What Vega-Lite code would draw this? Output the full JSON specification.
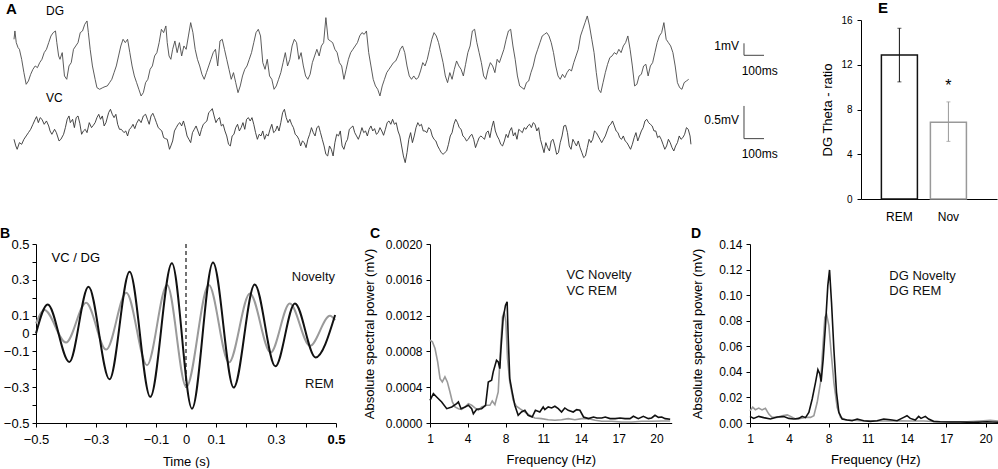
{
"$schema":"https://vega.github.io/schema/vega-lite/v6.json",
"padding":{"left":0,"top":1,"right":0,"bottom":0},
"background":"white",
"spacing":5,
"config":{
 "view":{"stroke":null},
 "font":"Liberation Sans",
 "axis":{"grid":false,"domainColor":"#000","tickColor":"#000","labelColor":"#000","titleColor":"#000","labelFont":"Liberation Sans","titleFont":"Liberation Sans","titleFontWeight":"normal","labelFontSize":12,"titleFontSize":13,"tickSize":4,"domainWidth":1,"tickWidth":1,"labelFlush":false,"labelOverlap":false},
 "title":{"font":"Liberation Sans","fontSize":14,"fontWeight":"bold","anchor":"start","frame":"group","color":"#000","offset":-3},
 "text":{"font":"Liberation Sans"}
},
"datasets":{
 "dgTrace":[{"s":38,"u":180},{"s":40,"u":205},{"s":43,"u":170},{"s":47,"u":155},{"s":50,"u":150},{"s":55,"u":120},{"s":60,"u":80},{"s":65,"u":45},{"s":70,"u":55},{"s":75,"u":75},{"s":80,"u":90},{"s":85,"u":100},{"s":90,"u":95},{"s":95,"u":110},{"s":100,"u":120},{"s":105,"u":140},{"s":110,"u":150},{"s":115,"u":170},{"s":120,"u":190},{"s":125,"u":200},{"s":130,"u":205},{"s":133,"u":170},{"s":137,"u":130},{"s":140,"u":120},{"s":145,"u":140},{"s":150,"u":70},{"s":155,"u":60},{"s":160,"u":100},{"s":165,"u":110},{"s":170,"u":150},{"s":175,"u":160},{"s":180,"u":170},{"s":185,"u":200},{"s":190,"u":205},{"s":195,"u":225},{"s":200,"u":235},{"s":203,"u":200},{"s":207,"u":150},{"s":212,"u":100},{"s":218,"u":60},{"s":222,"u":35},{"s":228,"u":30},{"s":235,"u":35},{"s":240,"u":38},{"s":245,"u":40},{"s":250,"u":50},{"s":255,"u":60},{"s":260,"u":80},{"s":265,"u":100},{"s":270,"u":130},{"s":275,"u":160},{"s":280,"u":180},{"s":285,"u":170},{"s":290,"u":180},{"s":295,"u":140},{"s":300,"u":100},{"s":305,"u":70},{"s":310,"u":50},{"s":315,"u":30},{"s":320,"u":10},{"s":325,"u":20},{"s":330,"u":50},{"s":335,"u":60},{"s":340,"u":90},{"s":345,"u":100},{"s":350,"u":130},{"s":355,"u":140},{"s":360,"u":170},{"s":365,"u":210},{"s":370,"u":200},{"s":375,"u":220},{"s":378,"u":170},{"s":382,"u":130},{"s":386,"u":120},{"s":390,"u":150},{"s":395,"u":175},{"s":400,"u":140},{"s":405,"u":170},{"s":410,"u":130},{"s":415,"u":160},{"s":420,"u":150},{"s":425,"u":190},{"s":430,"u":230},{"s":435,"u":200},{"s":440,"u":150},{"s":445,"u":120},{"s":450,"u":100},{"s":455,"u":75},{"s":460,"u":60},{"s":465,"u":80},{"s":470,"u":100},{"s":475,"u":120},{"s":480,"u":140},{"s":485,"u":150},{"s":490,"u":100},{"s":495,"u":175},{"s":500,"u":180},{"s":505,"u":150},{"s":510,"u":120},{"s":515,"u":90},{"s":520,"u":60},{"s":525,"u":80},{"s":530,"u":50},{"s":535,"u":20},{"s":540,"u":40},{"s":545,"u":70},{"s":550,"u":90},{"s":555,"u":100},{"s":560,"u":120},{"s":565,"u":140},{"s":570,"u":170},{"s":575,"u":200},{"s":580,"u":210},{"s":585,"u":190},{"s":590,"u":110},{"s":595,"u":90},{"s":600,"u":120},{"s":605,"u":70},{"s":610,"u":60},{"s":615,"u":30},{"s":620,"u":40},{"s":625,"u":60},{"s":630,"u":80},{"s":635,"u":110},{"s":640,"u":140},{"s":645,"u":100},{"s":650,"u":120},{"s":655,"u":160},{"s":660,"u":180},{"s":665,"u":170},{"s":670,"u":120},{"s":675,"u":140},{"s":680,"u":100},{"s":685,"u":70},{"s":690,"u":60},{"s":695,"u":75},{"s":700,"u":110},{"s":705,"u":130},{"s":710,"u":150},{"s":715,"u":130},{"s":720,"u":160},{"s":725,"u":170},{"s":730,"u":245},{"s":735,"u":180},{"s":740,"u":175},{"s":745,"u":170},{"s":750,"u":150},{"s":755,"u":140},{"s":760,"u":110},{"s":765,"u":100},{"s":770,"u":60},{"s":775,"u":90},{"s":780,"u":120},{"s":785,"u":140},{"s":790,"u":150},{"s":795,"u":160},{"s":800,"u":170},{"s":805,"u":190},{"s":810,"u":200},{"s":815,"u":195},{"s":820,"u":205},{"s":825,"u":140},{"s":830,"u":100},{"s":835,"u":60},{"s":840,"u":40},{"s":845,"u":30},{"s":850,"u":10},{"s":855,"u":40},{"s":860,"u":60},{"s":865,"u":80},{"s":870,"u":90},{"s":875,"u":100},{"s":880,"u":110},{"s":885,"u":115},{"s":890,"u":130},{"s":895,"u":150},{"s":900,"u":160},{"s":905,"u":140},{"s":910,"u":100},{"s":915,"u":70},{"s":920,"u":60},{"s":925,"u":70},{"s":930,"u":60},{"s":935,"u":65},{"s":940,"u":85},{"s":945,"u":110},{"s":950,"u":100},{"s":955,"u":120},{"s":960,"u":150},{"s":965,"u":180},{"s":970,"u":200},{"s":975,"u":190},{"s":980,"u":170},{"s":985,"u":140},{"s":990,"u":110},{"s":995,"u":70},{"s":1000,"u":50},{"s":1005,"u":80},{"s":1010,"u":60},{"s":1015,"u":90},{"s":1020,"u":115},{"s":1025,"u":100},{"s":1030,"u":90},{"s":1035,"u":70},{"s":1040,"u":105},{"s":1045,"u":140},{"s":1050,"u":160},{"s":1055,"u":205},{"s":1060,"u":210},{"s":1065,"u":170},{"s":1070,"u":140},{"s":1075,"u":110},{"s":1080,"u":70},{"s":1085,"u":60},{"s":1090,"u":90},{"s":1095,"u":110},{"s":1100,"u":100},{"s":1105,"u":80},{"s":1110,"u":120},{"s":1115,"u":110},{"s":1120,"u":130},{"s":1125,"u":150},{"s":1130,"u":180},{"s":1135,"u":205},{"s":1140,"u":210},{"s":1145,"u":160},{"s":1150,"u":120},{"s":1155,"u":70},{"s":1160,"u":40},{"s":1165,"u":35},{"s":1170,"u":30},{"s":1175,"u":50},{"s":1180,"u":55},{"s":1185,"u":80},{"s":1190,"u":100},{"s":1195,"u":130},{"s":1200,"u":150},{"s":1205,"u":170},{"s":1210,"u":190},{"s":1215,"u":195},{"s":1220,"u":200},{"s":1225,"u":190},{"s":1230,"u":170},{"s":1235,"u":140},{"s":1240,"u":100},{"s":1245,"u":70},{"s":1250,"u":60},{"s":1255,"u":75},{"s":1260,"u":65},{"s":1265,"u":80},{"s":1270,"u":90},{"s":1275,"u":85},{"s":1280,"u":110},{"s":1285,"u":130},{"s":1290,"u":150},{"s":1295,"u":190},{"s":1300,"u":210},{"s":1305,"u":230},{"s":1310,"u":250},{"s":1315,"u":220},{"s":1320,"u":180},{"s":1325,"u":140},{"s":1330,"u":80},{"s":1335,"u":30},{"s":1340,"u":20},{"s":1345,"u":50},{"s":1350,"u":80},{"s":1355,"u":105},{"s":1360,"u":125},{"s":1365,"u":130},{"s":1370,"u":140},{"s":1375,"u":135},{"s":1380,"u":150},{"s":1385,"u":140},{"s":1390,"u":160},{"s":1395,"u":170},{"s":1400,"u":190},{"s":1405,"u":150},{"s":1410,"u":100},{"s":1415,"u":40},{"s":1420,"u":45},{"s":1425,"u":70},{"s":1430,"u":75},{"s":1435,"u":100},{"s":1440,"u":105},{"s":1445,"u":70},{"s":1450,"u":100},{"s":1455,"u":110},{"s":1460,"u":140},{"s":1465,"u":170},{"s":1470,"u":190},{"s":1475,"u":200},{"s":1480,"u":230},{"s":1485,"u":180},{"s":1490,"u":170},{"s":1495,"u":160},{"s":1500,"u":140},{"s":1505,"u":100},{"s":1510,"u":50},{"s":1515,"u":35},{"s":1520,"u":30},{"s":1525,"u":50},{"s":1530,"u":55},{"s":1535,"u":60}],
 "vcTrace":[{"s":38,"u":30},{"s":42,"u":10},{"s":45,"u":0},{"s":50,"u":20},{"s":55,"u":15},{"s":60,"u":30},{"s":65,"u":40},{"s":70,"u":50},{"s":75,"u":60},{"s":80,"u":75},{"s":85,"u":90},{"s":88,"u":98},{"s":92,"u":80},{"s":96,"u":95},{"s":100,"u":90},{"s":105,"u":75},{"s":110,"u":85},{"s":115,"u":70},{"s":118,"u":55},{"s":122,"u":45},{"s":128,"u":60},{"s":132,"u":50},{"s":138,"u":25},{"s":142,"u":30},{"s":148,"u":45},{"s":152,"u":65},{"s":156,"u":90},{"s":160,"u":100},{"s":163,"u":80},{"s":168,"u":90},{"s":172,"u":65},{"s":176,"u":95},{"s":180,"u":100},{"s":184,"u":78},{"s":188,"u":45},{"s":192,"u":55},{"s":196,"u":60},{"s":200,"u":50},{"s":205,"u":80},{"s":210,"u":65},{"s":214,"u":72},{"s":218,"u":80},{"s":222,"u":95},{"s":226,"u":105},{"s":230,"u":90},{"s":234,"u":100},{"s":238,"u":70},{"s":242,"u":80},{"s":248,"u":110},{"s":252,"u":120},{"s":256,"u":105},{"s":260,"u":95},{"s":264,"u":105},{"s":268,"u":75},{"s":272,"u":60},{"s":276,"u":60},{"s":282,"u":50},{"s":286,"u":55},{"s":290,"u":40},{"s":294,"u":60},{"s":298,"u":65},{"s":302,"u":75},{"s":306,"u":62},{"s":310,"u":78},{"s":315,"u":90},{"s":320,"u":80},{"s":325,"u":100},{"s":330,"u":105},{"s":334,"u":90},{"s":338,"u":75},{"s":342,"u":100},{"s":346,"u":108},{"s":350,"u":95},{"s":354,"u":80},{"s":358,"u":65},{"s":362,"u":60},{"s":366,"u":55},{"s":370,"u":35},{"s":374,"u":32},{"s":378,"u":30},{"s":383,"u":0},{"s":386,"u":10},{"s":390,"u":25},{"s":394,"u":55},{"s":398,"u":65},{"s":402,"u":75},{"s":406,"u":80},{"s":410,"u":70},{"s":414,"u":85},{"s":418,"u":65},{"s":422,"u":40},{"s":426,"u":30},{"s":430,"u":20},{"s":434,"u":50},{"s":438,"u":60},{"s":442,"u":70},{"s":446,"u":55},{"s":450,"u":40},{"s":454,"u":60},{"s":458,"u":75},{"s":462,"u":80},{"s":466,"u":85},{"s":470,"u":110},{"s":474,"u":115},{"s":478,"u":122},{"s":482,"u":100},{"s":486,"u":80},{"s":490,"u":90},{"s":494,"u":95},{"s":498,"u":70},{"s":502,"u":75},{"s":506,"u":55},{"s":510,"u":40},{"s":514,"u":15},{"s":518,"u":10},{"s":522,"u":40},{"s":526,"u":45},{"s":530,"u":65},{"s":534,"u":75},{"s":538,"u":55},{"s":542,"u":65},{"s":546,"u":80},{"s":550,"u":60},{"s":554,"u":90},{"s":558,"u":95},{"s":562,"u":85},{"s":566,"u":95},{"s":570,"u":75},{"s":574,"u":50},{"s":578,"u":30},{"s":582,"u":45},{"s":586,"u":40},{"s":590,"u":55},{"s":594,"u":30},{"s":598,"u":45},{"s":602,"u":40},{"s":606,"u":60},{"s":610,"u":75},{"s":614,"u":50},{"s":618,"u":55},{"s":622,"u":70},{"s":626,"u":55},{"s":630,"u":80},{"s":634,"u":110},{"s":638,"u":120},{"s":642,"u":95},{"s":646,"u":80},{"s":650,"u":90},{"s":654,"u":75},{"s":658,"u":65},{"s":662,"u":45},{"s":666,"u":40},{"s":670,"u":30},{"s":674,"u":10},{"s":678,"u":25},{"s":682,"u":20},{"s":686,"u":5},{"s":690,"u":30},{"s":694,"u":45},{"s":698,"u":65},{"s":702,"u":50},{"s":706,"u":40},{"s":710,"u":65},{"s":714,"u":70},{"s":718,"u":50},{"s":722,"u":30},{"s":726,"u":10},{"s":730,"u":-15},{"s":734,"u":-20},{"s":738,"u":10},{"s":742,"u":0},{"s":746,"u":-20},{"s":750,"u":20},{"s":754,"u":45},{"s":758,"u":40},{"s":762,"u":55},{"s":766,"u":10},{"s":770,"u":0},{"s":774,"u":20},{"s":778,"u":30},{"s":782,"u":60},{"s":786,"u":65},{"s":790,"u":70},{"s":794,"u":50},{"s":798,"u":40},{"s":802,"u":30},{"s":806,"u":45},{"s":810,"u":65},{"s":814,"u":50},{"s":818,"u":55},{"s":822,"u":40},{"s":826,"u":60},{"s":830,"u":70},{"s":834,"u":55},{"s":838,"u":62},{"s":842,"u":45},{"s":846,"u":50},{"s":850,"u":65},{"s":854,"u":55},{"s":858,"u":42},{"s":862,"u":60},{"s":866,"u":80},{"s":870,"u":85},{"s":874,"u":75},{"s":878,"u":90},{"s":882,"u":75},{"s":886,"u":80},{"s":890,"u":55},{"s":894,"u":40},{"s":898,"u":10},{"s":902,"u":-20},{"s":906,"u":-40},{"s":910,"u":-10},{"s":914,"u":30},{"s":918,"u":50},{"s":922,"u":20},{"s":926,"u":40},{"s":930,"u":65},{"s":934,"u":80},{"s":938,"u":70},{"s":942,"u":75},{"s":946,"u":55},{"s":950,"u":55},{"s":954,"u":50},{"s":958,"u":65},{"s":962,"u":60},{"s":966,"u":40},{"s":970,"u":30},{"s":974,"u":25},{"s":978,"u":10},{"s":982,"u":0},{"s":986,"u":-10},{"s":990,"u":-15},{"s":994,"u":-10},{"s":998,"u":-5},{"s":1002,"u":15},{"s":1006,"u":40},{"s":1010,"u":50},{"s":1014,"u":75},{"s":1018,"u":90},{"s":1022,"u":80},{"s":1026,"u":65},{"s":1030,"u":60},{"s":1034,"u":40},{"s":1038,"u":35},{"s":1042,"u":25},{"s":1046,"u":30},{"s":1050,"u":40},{"s":1054,"u":45},{"s":1058,"u":30},{"s":1062,"u":5},{"s":1066,"u":20},{"s":1070,"u":35},{"s":1074,"u":40},{"s":1078,"u":35},{"s":1082,"u":30},{"s":1086,"u":50},{"s":1090,"u":55},{"s":1094,"u":35},{"s":1098,"u":65},{"s":1102,"u":85},{"s":1106,"u":55},{"s":1110,"u":40},{"s":1114,"u":30},{"s":1118,"u":15},{"s":1122,"u":10},{"s":1126,"u":25},{"s":1130,"u":45},{"s":1134,"u":35},{"s":1138,"u":55},{"s":1142,"u":65},{"s":1146,"u":40},{"s":1150,"u":50},{"s":1154,"u":30},{"s":1158,"u":60},{"s":1162,"u":55},{"s":1166,"u":50},{"s":1170,"u":65},{"s":1174,"u":60},{"s":1178,"u":70},{"s":1182,"u":75},{"s":1186,"u":65},{"s":1190,"u":80},{"s":1194,"u":75},{"s":1198,"u":55},{"s":1202,"u":65},{"s":1206,"u":30},{"s":1210,"u":10},{"s":1214,"u":-10},{"s":1218,"u":20},{"s":1222,"u":5},{"s":1226,"u":-5},{"s":1230,"u":25},{"s":1234,"u":30},{"s":1238,"u":10},{"s":1242,"u":-15},{"s":1246,"u":-10},{"s":1250,"u":20},{"s":1254,"u":40},{"s":1258,"u":70},{"s":1262,"u":72},{"s":1266,"u":50},{"s":1270,"u":10},{"s":1274,"u":0},{"s":1278,"u":30},{"s":1282,"u":20},{"s":1286,"u":10},{"s":1290,"u":25},{"s":1294,"u":5},{"s":1298,"u":-10},{"s":1302,"u":-25},{"s":1306,"u":-20},{"s":1310,"u":5},{"s":1314,"u":30},{"s":1318,"u":20},{"s":1322,"u":30},{"s":1326,"u":55},{"s":1330,"u":50},{"s":1334,"u":40},{"s":1338,"u":30},{"s":1342,"u":20},{"s":1346,"u":30},{"s":1350,"u":40},{"s":1354,"u":55},{"s":1358,"u":70},{"s":1362,"u":75},{"s":1366,"u":85},{"s":1370,"u":70},{"s":1374,"u":55},{"s":1378,"u":50},{"s":1382,"u":35},{"s":1386,"u":30},{"s":1390,"u":40},{"s":1394,"u":25},{"s":1398,"u":20},{"s":1402,"u":10},{"s":1406,"u":0},{"s":1410,"u":15},{"s":1414,"u":35},{"s":1418,"u":50},{"s":1422,"u":25},{"s":1426,"u":40},{"s":1430,"u":55},{"s":1434,"u":65},{"s":1438,"u":85},{"s":1442,"u":90},{"s":1446,"u":80},{"s":1450,"u":75},{"s":1454,"u":70},{"s":1458,"u":55},{"s":1462,"u":55},{"s":1466,"u":35},{"s":1470,"u":40},{"s":1474,"u":30},{"s":1478,"u":15},{"s":1482,"u":0},{"s":1486,"u":10},{"s":1490,"u":30},{"s":1494,"u":20},{"s":1498,"u":5},{"s":1502,"u":-5},{"s":1506,"u":10},{"s":1510,"u":20},{"s":1514,"u":40},{"s":1518,"u":30},{"s":1522,"u":35},{"s":1526,"u":45},{"s":1530,"u":65},{"s":1534,"u":60},{"s":1538,"u":40},{"s":1540,"u":15}],
 "dgBar":[{"x1":1657.7,"x2":1657.7,"y1":132,"y2":168},{"x1":1657.7,"x2":1702.1,"y1":132,"y2":132}],
 "vcBar":[{"x1":1657.7,"x2":1657.7,"y1":32,"y2":130},{"x1":1657.7,"x2":1702.1,"y1":32,"y2":32}],
 "dgRight":[{"s":1646.6,"u":159,"label":"1mV"}],
 "dgLeft":[{"s":109,"u":264,"label":"DG"},{"s":1652.6,"u":84,"label":"100ms"}],
 "vcRight":[{"s":1646.6,"u":87,"label":"0.5mV"}],
 "vcLeft":[{"s":109,"u":153,"label":"VC"},{"s":1652.6,"u":-15,"label":"100ms"}],
 "panelA":[{"s":20.3,"u":270,"label":"A"}],
 "xcorr":[
  {"lag":-0.5,"r":0.056,"state":"Novelty"},{"lag":-0.472,"r":0.131,"state":"Novelty"},{"lag":-0.4,"r":-0.05,"state":"Novelty"},{"lag":-0.333,"r":0.172,"state":"Novelty"},{"lag":-0.266,"r":-0.09,"state":"Novelty"},{"lag":-0.199,"r":0.228,"state":"Novelty"},{"lag":-0.13,"r":-0.177,"state":"Novelty"},{"lag":-0.063,"r":0.271,"state":"Novelty"},{"lag":0.001,"r":-0.299,"state":"Novelty"},{"lag":0.076,"r":0.271,"state":"Novelty"},{"lag":0.143,"r":-0.162,"state":"Novelty"},{"lag":0.213,"r":0.224,"state":"Novelty"},{"lag":0.282,"r":-0.106,"state":"Novelty"},{"lag":0.346,"r":0.168,"state":"Novelty"},{"lag":0.413,"r":-0.069,"state":"Novelty"},{"lag":0.48,"r":0.099,"state":"Novelty"},{"lag":0.497,"r":0.075,"state":"Novelty"},
  {"lag":-0.5,"r":0.0,"state":"REM"},{"lag":-0.461,"r":0.162,"state":"REM"},{"lag":-0.389,"r":-0.159,"state":"REM"},{"lag":-0.325,"r":0.261,"state":"REM"},{"lag":-0.255,"r":-0.256,"state":"REM"},{"lag":-0.188,"r":0.345,"state":"REM"},{"lag":-0.119,"r":-0.354,"state":"REM"},{"lag":-0.047,"r":0.392,"state":"REM"},{"lag":0.02,"r":-0.42,"state":"REM"},{"lag":0.09,"r":0.396,"state":"REM"},{"lag":0.159,"r":-0.302,"state":"REM"},{"lag":0.229,"r":0.274,"state":"REM"},{"lag":0.298,"r":-0.183,"state":"REM"},{"lag":0.363,"r":0.168,"state":"REM"},{"lag":0.432,"r":-0.134,"state":"REM"},{"lag":0.497,"r":0.103,"state":"REM"}],
 "zeroLag":[{"lag":0,"top":0.5,"bottom":-0.32}],
 "bLabels":[{"lag":-0.448,"r":0.42,"label":"VC / DG","state":"pair"}],
 "bRight":[{"lag":0.497,"r":0.317,"label":"Novelty","state":"Novelty"},{"lag":0.493,"r":-0.28,"label":"REM","state":"REM"}],
 "vcSpec":[
  {"hz":1.0,"p":0.000925,"state":"Novelty"},{"hz":1.19,"p":0.000907,"state":"Novelty"},{"hz":1.4,"p":0.000832,"state":"Novelty"},{"hz":1.61,"p":0.000683,"state":"Novelty"},{"hz":1.8,"p":0.000496,"state":"Novelty"},{"hz":1.98,"p":0.000459,"state":"Novelty"},{"hz":2.19,"p":0.000515,"state":"Novelty"},{"hz":2.38,"p":0.000459,"state":"Novelty"},{"hz":2.59,"p":0.000347,"state":"Novelty"},{"hz":2.78,"p":0.000235,"state":"Novelty"},{"hz":2.99,"p":0.000179,"state":"Novelty"},{"hz":3.26,"p":0.00016,"state":"Novelty"},{"hz":3.52,"p":0.000153,"state":"Novelty"},{"hz":3.79,"p":0.000179,"state":"Novelty"},{"hz":4.07,"p":0.000216,"state":"Novelty"},{"hz":4.42,"p":0.000198,"state":"Novelty"},{"hz":4.77,"p":0.000168,"state":"Novelty"},{"hz":5.12,"p":0.000142,"state":"Novelty"},{"hz":5.47,"p":0.000179,"state":"Novelty"},{"hz":6.0,"p":0.000198,"state":"Novelty"},{"hz":6.35,"p":0.000198,"state":"Novelty"},{"hz":6.6,"p":0.000246,"state":"Novelty"},{"hz":6.88,"p":0.000205,"state":"Novelty"},{"hz":7.23,"p":0.000347,"state":"Novelty"},{"hz":7.51,"p":0.000907,"state":"Novelty"},{"hz":7.68,"p":0.001186,"state":"Novelty"},{"hz":7.86,"p":0.001242,"state":"Novelty"},{"hz":8.03,"p":0.00113,"state":"Novelty"},{"hz":8.16,"p":0.00072,"state":"Novelty"},{"hz":8.34,"p":0.000459,"state":"Novelty"},{"hz":8.61,"p":0.000254,"state":"Novelty"},{"hz":8.87,"p":0.000187,"state":"Novelty"},{"hz":9.14,"p":0.00016,"state":"Novelty"},{"hz":9.54,"p":0.000123,"state":"Novelty"},{"hz":9.93,"p":0.000086,"state":"Novelty"},{"hz":10.33,"p":0.000056,"state":"Novelty"},{"hz":10.86,"p":0.000049,"state":"Novelty"},{"hz":11.4,"p":0.000037,"state":"Novelty"},{"hz":11.93,"p":0.00003,"state":"Novelty"},{"hz":12.46,"p":0.000037,"state":"Novelty"},{"hz":12.99,"p":0.000049,"state":"Novelty"},{"hz":13.52,"p":0.000037,"state":"Novelty"},{"hz":14.07,"p":0.000049,"state":"Novelty"},{"hz":14.6,"p":0.000049,"state":"Novelty"},{"hz":15.13,"p":0.00003,"state":"Novelty"},{"hz":15.66,"p":0.000019,"state":"Novelty"},{"hz":16.45,"p":0.000019,"state":"Novelty"},{"hz":17.24,"p":0.000011,"state":"Novelty"},{"hz":18.04,"p":0.000011,"state":"Novelty"},{"hz":18.83,"p":0.000019,"state":"Novelty"},{"hz":19.62,"p":0.000019,"state":"Novelty"},{"hz":20.42,"p":0.000022,"state":"Novelty"},{"hz":21.08,"p":0.000022,"state":"Novelty"},
  {"hz":1.0,"p":0.000254,"state":"REM"},{"hz":1.27,"p":0.000328,"state":"REM"},{"hz":1.53,"p":0.000291,"state":"REM"},{"hz":1.93,"p":0.000235,"state":"REM"},{"hz":2.33,"p":0.00016,"state":"REM"},{"hz":2.73,"p":0.000179,"state":"REM"},{"hz":3.12,"p":0.000216,"state":"REM"},{"hz":3.26,"p":0.000235,"state":"REM"},{"hz":3.47,"p":0.00016,"state":"REM"},{"hz":3.79,"p":0.000179,"state":"REM"},{"hz":4.07,"p":0.000198,"state":"REM"},{"hz":4.42,"p":0.00016,"state":"REM"},{"hz":4.6,"p":0.000104,"state":"REM"},{"hz":4.95,"p":0.000153,"state":"REM"},{"hz":5.47,"p":0.00016,"state":"REM"},{"hz":5.89,"p":0.000198,"state":"REM"},{"hz":6.18,"p":0.000459,"state":"REM"},{"hz":6.53,"p":0.000478,"state":"REM"},{"hz":6.7,"p":0.000571,"state":"REM"},{"hz":7.05,"p":0.000701,"state":"REM"},{"hz":7.23,"p":0.000683,"state":"REM"},{"hz":7.4,"p":0.000608,"state":"REM"},{"hz":7.51,"p":0.000813,"state":"REM"},{"hz":7.75,"p":0.001168,"state":"REM"},{"hz":8.0,"p":0.001317,"state":"REM"},{"hz":8.13,"p":0.001354,"state":"REM"},{"hz":8.21,"p":0.000981,"state":"REM"},{"hz":8.34,"p":0.000496,"state":"REM"},{"hz":8.53,"p":0.000347,"state":"REM"},{"hz":8.74,"p":0.000198,"state":"REM"},{"hz":9.01,"p":0.000086,"state":"REM"},{"hz":9.27,"p":0.000123,"state":"REM"},{"hz":9.54,"p":0.000142,"state":"REM"},{"hz":9.8,"p":0.000086,"state":"REM"},{"hz":10.12,"p":0.000067,"state":"REM"},{"hz":10.38,"p":0.000142,"state":"REM"},{"hz":10.73,"p":0.000123,"state":"REM"},{"hz":11.0,"p":0.000179,"state":"REM"},{"hz":11.13,"p":0.000149,"state":"REM"},{"hz":11.4,"p":0.000179,"state":"REM"},{"hz":11.67,"p":0.000168,"state":"REM"},{"hz":11.93,"p":0.000187,"state":"REM"},{"hz":12.2,"p":0.00016,"state":"REM"},{"hz":12.46,"p":0.000123,"state":"REM"},{"hz":12.72,"p":0.000168,"state":"REM"},{"hz":12.99,"p":0.000142,"state":"REM"},{"hz":13.39,"p":0.000123,"state":"REM"},{"hz":13.66,"p":0.000149,"state":"REM"},{"hz":13.92,"p":0.000142,"state":"REM"},{"hz":14.21,"p":0.000067,"state":"REM"},{"hz":14.6,"p":0.000049,"state":"REM"},{"hz":15.0,"p":0.000067,"state":"REM"},{"hz":15.27,"p":0.000056,"state":"REM"},{"hz":15.66,"p":0.000056,"state":"REM"},{"hz":15.93,"p":0.000067,"state":"REM"},{"hz":16.32,"p":0.000049,"state":"REM"},{"hz":16.72,"p":0.000049,"state":"REM"},{"hz":17.11,"p":0.000056,"state":"REM"},{"hz":17.5,"p":0.000049,"state":"REM"},{"hz":17.9,"p":0.000049,"state":"REM"},{"hz":18.17,"p":0.000075,"state":"REM"},{"hz":18.56,"p":0.000049,"state":"REM"},{"hz":18.96,"p":0.000075,"state":"REM"},{"hz":19.36,"p":0.000049,"state":"REM"},{"hz":19.62,"p":0.000056,"state":"REM"},{"hz":19.89,"p":0.000086,"state":"REM"},{"hz":20.16,"p":0.000063,"state":"REM"},{"hz":20.42,"p":0.000067,"state":"REM"},{"hz":20.69,"p":0.000049,"state":"REM"},{"hz":21.08,"p":0.000041,"state":"REM"}],
 "vcSpecLabels":[{"hz":12.85,"p":0.00165,"label":"VC Novelty","state":"Novelty"},{"hz":12.85,"p":0.00148,"label":"VC REM","state":"REM"}],
 "dgSpec":[
  {"hz":1.0,"p":0.0096,"state":"Novelty"},{"hz":1.21,"p":0.0123,"state":"Novelty"},{"hz":1.41,"p":0.0104,"state":"Novelty"},{"hz":1.67,"p":0.0117,"state":"Novelty"},{"hz":1.92,"p":0.0102,"state":"Novelty"},{"hz":2.18,"p":0.0115,"state":"Novelty"},{"hz":2.44,"p":0.007,"state":"Novelty"},{"hz":2.69,"p":0.0044,"state":"Novelty"},{"hz":3.08,"p":0.0044,"state":"Novelty"},{"hz":3.46,"p":0.0057,"state":"Novelty"},{"hz":3.85,"p":0.0063,"state":"Novelty"},{"hz":4.14,"p":0.0052,"state":"Novelty"},{"hz":4.64,"p":0.0031,"state":"Novelty"},{"hz":5.15,"p":0.0036,"state":"Novelty"},{"hz":5.66,"p":0.0044,"state":"Novelty"},{"hz":6.17,"p":0.0044,"state":"Novelty"},{"hz":6.51,"p":0.0057,"state":"Novelty"},{"hz":6.85,"p":0.0162,"state":"Novelty"},{"hz":7.19,"p":0.0318,"state":"Novelty"},{"hz":7.46,"p":0.0631,"state":"Novelty"},{"hz":7.63,"p":0.0826,"state":"Novelty"},{"hz":7.8,"p":0.0852,"state":"Novelty"},{"hz":8.03,"p":0.0761,"state":"Novelty"},{"hz":8.2,"p":0.0553,"state":"Novelty"},{"hz":8.41,"p":0.0318,"state":"Novelty"},{"hz":8.66,"p":0.0123,"state":"Novelty"},{"hz":8.92,"p":0.0044,"state":"Novelty"},{"hz":9.3,"p":0.0026,"state":"Novelty"},{"hz":9.68,"p":0.0023,"state":"Novelty"},{"hz":10.44,"p":0.0018,"state":"Novelty"},{"hz":11.2,"p":0.0016,"state":"Novelty"},{"hz":12.22,"p":0.0016,"state":"Novelty"},{"hz":13.24,"p":0.0018,"state":"Novelty"},{"hz":14.25,"p":0.0016,"state":"Novelty"},{"hz":15.27,"p":0.0016,"state":"Novelty"},{"hz":16.29,"p":0.001,"state":"Novelty"},{"hz":17.3,"p":0.001,"state":"Novelty"},{"hz":18.57,"p":0.001,"state":"Novelty"},{"hz":19.84,"p":0.0018,"state":"Novelty"},{"hz":20.35,"p":0.0021,"state":"Novelty"},{"hz":21.1,"p":0.0013,"state":"Novelty"},
  {"hz":1.0,"p":0.0052,"state":"REM"},{"hz":1.28,"p":0.0036,"state":"REM"},{"hz":1.67,"p":0.0052,"state":"REM"},{"hz":2.05,"p":0.0042,"state":"REM"},{"hz":2.56,"p":0.0031,"state":"REM"},{"hz":3.08,"p":0.0047,"state":"REM"},{"hz":3.59,"p":0.005,"state":"REM"},{"hz":3.97,"p":0.0036,"state":"REM"},{"hz":4.47,"p":0.0031,"state":"REM"},{"hz":4.98,"p":0.0036,"state":"REM"},{"hz":5.32,"p":0.0052,"state":"REM"},{"hz":5.66,"p":0.0042,"state":"REM"},{"hz":6.0,"p":0.0083,"state":"REM"},{"hz":6.34,"p":0.0188,"state":"REM"},{"hz":6.68,"p":0.0318,"state":"REM"},{"hz":6.92,"p":0.0417,"state":"REM"},{"hz":7.12,"p":0.0383,"state":"REM"},{"hz":7.25,"p":0.0323,"state":"REM"},{"hz":7.46,"p":0.05,"state":"REM"},{"hz":7.69,"p":0.0761,"state":"REM"},{"hz":7.93,"p":0.1074,"state":"REM"},{"hz":8.08,"p":0.1197,"state":"REM"},{"hz":8.23,"p":0.0944,"state":"REM"},{"hz":8.41,"p":0.0579,"state":"REM"},{"hz":8.61,"p":0.024,"state":"REM"},{"hz":8.79,"p":0.0083,"state":"REM"},{"hz":9.04,"p":0.0031,"state":"REM"},{"hz":9.42,"p":0.0023,"state":"REM"},{"hz":9.8,"p":0.0018,"state":"REM"},{"hz":10.19,"p":0.0031,"state":"REM"},{"hz":10.69,"p":0.0018,"state":"REM"},{"hz":11.2,"p":0.0013,"state":"REM"},{"hz":11.71,"p":0.0018,"state":"REM"},{"hz":12.22,"p":0.0031,"state":"REM"},{"hz":12.73,"p":0.0026,"state":"REM"},{"hz":13.24,"p":0.0018,"state":"REM"},{"hz":13.75,"p":0.0044,"state":"REM"},{"hz":14.0,"p":0.0057,"state":"REM"},{"hz":14.25,"p":0.0036,"state":"REM"},{"hz":14.63,"p":0.0023,"state":"REM"},{"hz":14.89,"p":0.0052,"state":"REM"},{"hz":15.07,"p":0.0036,"state":"REM"},{"hz":15.4,"p":0.0052,"state":"REM"},{"hz":15.65,"p":0.0031,"state":"REM"},{"hz":16.03,"p":0.0013,"state":"REM"},{"hz":16.54,"p":0.001,"state":"REM"},{"hz":17.3,"p":0.0008,"state":"REM"},{"hz":18.07,"p":0.0008,"state":"REM"},{"hz":19.08,"p":0.0005,"state":"REM"},{"hz":20.1,"p":0.001,"state":"REM"},{"hz":21.1,"p":0.0005,"state":"REM"}],
 "dgSpecLabels":[{"hz":12.65,"p":0.1147,"label":"DG Novelty","state":"Novelty"},{"hz":12.65,"p":0.103,"label":"DG REM","state":"REM"}],
 "ratio":[{"cond":"REM","mean":12.88,"lo":10.47,"hi":15.26},{"cond":"Nov","mean":6.87,"lo":5.15,"hi":8.68}],
 "sig":[{"cond":"Nov","y":10.1,"label":"*"}]
},
"vconcat":[
 {"hconcat":[
  {"width":755,"height":179,
   "resolve":{"scale":{"y":"independent"}},
   "layer":[
    {"layer":[
      {"data":{"name":"dgTrace"},"mark":{"type":"line","color":"#4a4a4a","strokeWidth":0.9},
       "encoding":{"x":{"field":"s","type":"quantitative","scale":{"domain":[86.8,1762],"nice":false,"zero":false},"axis":null},"y":{"field":"u","type":"quantitative","scale":{"domain":[-299.1,237.9],"nice":false,"zero":false},"axis":null}}},
      {"data":{"name":"dgBar"},"mark":{"type":"rule","color":"#444","strokeWidth":1},
       "encoding":{"x":{"field":"x1","type":"quantitative","scale":{"domain":[86.8,1762],"nice":false,"zero":false},"axis":null},"x2":{"field":"x2"},"y":{"field":"y1","type":"quantitative","scale":{"domain":[-299.1,237.9],"nice":false,"zero":false},"axis":null},"y2":{"field":"y2"}}},
      {"data":{"name":"dgRight"},"mark":{"type":"text","align":"right","baseline":"middle","fontSize":12,"color":"#000"},
       "encoding":{"x":{"field":"s","type":"quantitative","scale":{"domain":[86.8,1762],"nice":false,"zero":false},"axis":null},"y":{"field":"u","type":"quantitative","scale":{"domain":[-299.1,237.9],"nice":false,"zero":false},"axis":null},"text":{"field":"label"}}},
      {"data":{"name":"dgLeft"},"mark":{"type":"text","align":"left","baseline":"middle","fontSize":12,"color":"#000"},
       "encoding":{"x":{"field":"s","type":"quantitative","scale":{"domain":[86.8,1762],"nice":false,"zero":false},"axis":null},"y":{"field":"u","type":"quantitative","scale":{"domain":[-299.1,237.9],"nice":false,"zero":false},"axis":null},"text":{"field":"label"}}},
      {"data":{"name":"panelA"},"mark":{"type":"text","align":"left","baseline":"middle","fontSize":15,"fontWeight":"bold","color":"#000"},
       "encoding":{"x":{"field":"s","type":"quantitative","scale":{"domain":[86.8,1762],"nice":false,"zero":false},"axis":null},"y":{"field":"u","type":"quantitative","scale":{"domain":[-299.1,237.9],"nice":false,"zero":false},"axis":null},"text":{"field":"label"}}}
    ]},
    {"layer":[
      {"data":{"name":"vcTrace"},"mark":{"type":"line","color":"#333","strokeWidth":0.9},
       "encoding":{"x":{"field":"s","type":"quantitative","scale":{"domain":[86.8,1762],"nice":false,"zero":false},"axis":null},"y":{"field":"u","type":"quantitative","scale":{"domain":[-149.1,387.9],"nice":false,"zero":false},"axis":null}}},
      {"data":{"name":"vcBar"},"mark":{"type":"rule","color":"#444","strokeWidth":1},
       "encoding":{"x":{"field":"x1","type":"quantitative","scale":{"domain":[86.8,1762],"nice":false,"zero":false},"axis":null},"x2":{"field":"x2"},"y":{"field":"y1","type":"quantitative","scale":{"domain":[-149.1,387.9],"nice":false,"zero":false},"axis":null},"y2":{"field":"y2"}}},
      {"data":{"name":"vcRight"},"mark":{"type":"text","align":"right","baseline":"middle","fontSize":12,"color":"#000"},
       "encoding":{"x":{"field":"s","type":"quantitative","scale":{"domain":[86.8,1762],"nice":false,"zero":false},"axis":null},"y":{"field":"u","type":"quantitative","scale":{"domain":[-149.1,387.9],"nice":false,"zero":false},"axis":null},"text":{"field":"label"}}},
      {"data":{"name":"vcLeft"},"mark":{"type":"text","align":"left","baseline":"middle","fontSize":12,"color":"#000"},
       "encoding":{"x":{"field":"s","type":"quantitative","scale":{"domain":[86.8,1762],"nice":false,"zero":false},"axis":null},"y":{"field":"u","type":"quantitative","scale":{"domain":[-149.1,387.9],"nice":false,"zero":false},"axis":null},"text":{"field":"label"}}}
    ]}
   ]},
  {"width":136,"height":179,
   "title":{"text":"E","dx":17,"offset":-1,"fontSize":15},
   "data":{"name":"ratio"},
   "encoding":{"x":{"field":"cond","type":"nominal","sort":["REM","Nov"],"scale":{"paddingInner":0.265,"paddingOuter":0.52,"align":0.4},"axis":{"title":null,"labelAngle":0,"ticks":false,"labelFontSize":12,"labelPadding":12}}},
   "layer":[
    {"mark":{"type":"bar","fill":"white","strokeWidth":1.5},
     "encoding":{"y":{"field":"mean","type":"quantitative","scale":{"domain":[0,16],"nice":false},"axis":{"values":[0,2,4,6,8,10,12,14,16],"title":"DG Theta - ratio","labelFontSize":10,"titleFontSize":13,"minExtent":23,"maxExtent":23,"titlePadding":4,"labelPadding":5}},
      "stroke":{"field":"cond","type":"nominal","scale":{"domain":["REM","Nov"],"range":["#111","#999"]},"legend":null}}},
    {"mark":{"type":"rule","strokeWidth":1},
     "encoding":{"y":{"field":"lo","type":"quantitative"},"y2":{"field":"hi"},"color":{"field":"cond","type":"nominal","scale":{"domain":["REM","Nov"],"range":["#111","#999"]},"legend":null}}},
    {"mark":{"type":"tick","size":4,"thickness":1},
     "encoding":{"y":{"field":"hi","type":"quantitative"},"color":{"field":"cond","type":"nominal","scale":{"domain":["REM","Nov"],"range":["#111","#999"]},"legend":null}}},
    {"mark":{"type":"tick","size":4,"thickness":1},
     "encoding":{"y":{"field":"lo","type":"quantitative"},"color":{"field":"cond","type":"nominal","scale":{"domain":["REM","Nov"],"range":["#111","#999"]},"legend":null}}},
    {"data":{"name":"sig"},"mark":{"type":"text","fontSize":16,"baseline":"middle","color":"#000"},
     "encoding":{"y":{"field":"y","type":"quantitative"},"text":{"field":"label"}}}
   ]}
 ],"spacing":30},
 {"hconcat":[
  {"width":300,"height":179,
   "title":{"text":"B","dx":-36},
   "layer":[
    {"data":{"name":"zeroLag"},"mark":{"type":"rule","color":"#444","strokeWidth":1.5,"strokeDash":[4,3]},
     "encoding":{"x":{"field":"lag","type":"quantitative"},"y":{"field":"top","type":"quantitative"},"y2":{"field":"bottom"}}},
    {"data":{"name":"xcorr"},"transform":[{"filter":"datum.state == 'Novelty'"}],"mark":{"type":"line","interpolate":"monotone","color":"#9a9a9a","strokeWidth":2},
     "encoding":{"x":{"field":"lag","type":"quantitative"},"y":{"field":"r","type":"quantitative"}}},
    {"data":{"name":"xcorr"},"transform":[{"filter":"datum.state == 'REM'"}],"mark":{"type":"line","interpolate":"monotone","color":"#111","strokeWidth":2},
     "encoding":{"x":{"field":"lag","type":"quantitative"},"y":{"field":"r","type":"quantitative"}}},
    {"data":{"name":"bLabels"},"mark":{"type":"text","align":"left","baseline":"middle","fontSize":13,"color":"#000"},
     "encoding":{"x":{"field":"lag","type":"quantitative"},"y":{"field":"r","type":"quantitative"},"text":{"field":"label"}}},
    {"data":{"name":"bRight"},"mark":{"type":"text","align":"right","baseline":"middle","fontSize":13},
     "encoding":{"x":{"field":"lag","type":"quantitative"},"y":{"field":"r","type":"quantitative"},"text":{"field":"label"},"color":{"field":"state","type":"nominal","scale":{"domain":["REM","Novelty"],"range":["#111","#999"]},"legend":null}}}
   ],
   "encoding":{
    "x":{"scale":{"domain":[-0.5,0.5],"nice":false,"zero":false},"axis":{"values":[-0.5,-0.4,-0.3,-0.2,-0.1,0,0.1,0.2,0.3,0.4,0.5],"labelExpr":"indexof([-0.5,-0.3,-0.1,0,0.1,0.3,0.5], datum.value) >= 0 ? (datum.value == 0 ? '0' : format(datum.value, '.1f')) : ''","title":"Time (s)","labelFontSize":13,"labelPadding":6,"titlePadding":9,"labelFontWeight":{"condition":{"test":"datum.value == 0.5","value":"bold"},"value":"normal"}}},
    "y":{"scale":{"domain":[-0.5,0.5],"nice":false,"zero":false},"axis":{"values":[-0.5,-0.4,-0.3,-0.2,-0.1,0,0.1,0.2,0.3,0.4,0.5],"labelExpr":"indexof([-0.5,-0.3,-0.1,0,0.1,0.3,0.5], datum.value) >= 0 ? (datum.value == 0 ? '0' : format(datum.value, '.1f')) : ''","title":null,"labelFontSize":13,"labelPadding":3,"minExtent":35,"maxExtent":35}}
   }},
  {"width":242,"height":179,
   "title":{"text":"C","dx":-60},
   "layer":[
    {"data":{"name":"vcSpec"},"transform":[{"filter":"datum.state == 'Novelty'"}],"mark":{"type":"line","color":"#9a9a9a","strokeWidth":1.6},
     "encoding":{"x":{"field":"hz","type":"quantitative"},"y":{"field":"p","type":"quantitative"}}},
    {"data":{"name":"vcSpec"},"transform":[{"filter":"datum.state == 'REM'"}],"mark":{"type":"line","color":"#111","strokeWidth":1.6},
     "encoding":{"x":{"field":"hz","type":"quantitative"},"y":{"field":"p","type":"quantitative"}}},
    {"data":{"name":"vcSpecLabels"},"mark":{"type":"text","align":"left","baseline":"middle","fontSize":13},
     "encoding":{"x":{"field":"hz","type":"quantitative"},"y":{"field":"p","type":"quantitative"},"text":{"field":"label"},"color":{"field":"state","type":"nominal","scale":{"domain":["REM","Novelty"],"range":["#111","#999"]},"legend":null}}}
   ],
   "encoding":{
    "x":{"scale":{"domain":[1,4,8,11,14,17,20,21.2],"range":[0,37.7,75.5,113.2,150.9,188.7,226.4,241.7],"nice":false,"zero":false},"axis":{"values":[1,4,8,11,14,17,20],"format":"d","title":"Frequency (Hz)","labelPadding":6,"titlePadding":9}},
    "y":{"scale":{"domain":[0,0.002],"nice":false,"zero":false},"axis":{"values":[0,0.0004,0.0008,0.0012,0.0016,0.002],"format":".4f","title":"Absolute spectral power (mV)","minExtent":47,"maxExtent":47,"titlePadding":7,"labelPadding":4}}
   }},
  {"width":250,"height":179,
   "title":{"text":"D","dx":-59},
   "layer":[
    {"data":{"name":"dgSpec"},"transform":[{"filter":"datum.state == 'Novelty'"}],"mark":{"type":"line","color":"#9a9a9a","strokeWidth":1.6},
     "encoding":{"x":{"field":"hz","type":"quantitative"},"y":{"field":"p","type":"quantitative"}}},
    {"data":{"name":"dgSpec"},"transform":[{"filter":"datum.state == 'REM'"}],"mark":{"type":"line","color":"#111","strokeWidth":1.6},
     "encoding":{"x":{"field":"hz","type":"quantitative"},"y":{"field":"p","type":"quantitative"}}},
    {"data":{"name":"dgSpecLabels"},"mark":{"type":"text","align":"left","baseline":"middle","fontSize":13},
     "encoding":{"x":{"field":"hz","type":"quantitative"},"y":{"field":"p","type":"quantitative"},"text":{"field":"label"},"color":{"field":"state","type":"nominal","scale":{"domain":["REM","Novelty"],"range":["#111","#999"]},"legend":null}}}
   ],
   "encoding":{
    "x":{"scale":{"domain":[1,4,8,11,14,17,20,21.1],"range":[0,39.2,78.5,117.8,157,196.3,235.6,250.4],"nice":false,"zero":false},"axis":{"values":[1,4,8,11,14,17,20],"format":"d","title":"Frequency (Hz)","labelPadding":6,"titlePadding":9}},
    "y":{"scale":{"domain":[0,0.14],"nice":false,"zero":false},"axis":{"values":[0,0.02,0.04,0.06,0.08,0.1,0.12,0.14],"format":".2f","title":"Absolute spectral power (mV)","minExtent":33,"maxExtent":33,"titlePadding":13,"labelPadding":4}}
   }}
 ],"spacing":17}
]
}
